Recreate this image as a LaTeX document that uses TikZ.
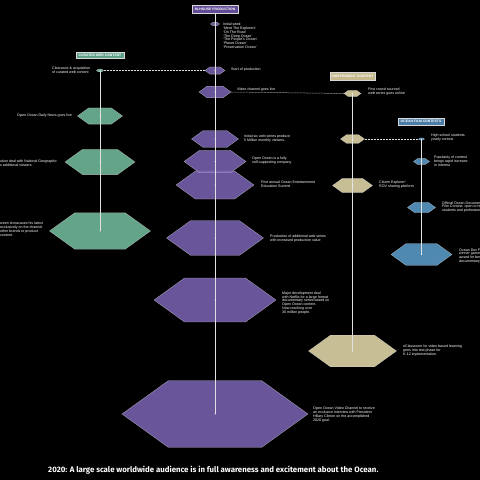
\documentclass[tikz,border=0pt]{standalone}
\usepackage{fontspec}
\setmainfont{Liberation Sans}
\newfontfamily\capfont{Fira Sans}
\usetikzlibrary{calc}
\definecolor{purp}{RGB}{124,100,182}
\definecolor{grn}{RGB}{118,194,162}
\definecolor{tan}{RGB}{236,224,176}
\definecolor{blu}{RGB}{94,160,208}
\definecolor{purpbox}{RGB}{98,76,150}
\definecolor{grnbox}{RGB}{96,160,134}
\definecolor{tanbox}{RGB}{196,184,140}
\definecolor{blubox}{RGB}{74,126,168}
\definecolor{linec}{RGB}{225,225,225}
\tikzset{
  hexbox/.style={inner sep=0pt, outer sep=0pt, draw=none},
  hexshape/.style={fill opacity=0.85, draw=white!85!black, draw opacity=0.7, line width=0.3pt},
  dotc/.style={fill=white},
  txt/.style={font=\fontsize{3.6}{3.9}\selectfont, text=white, align=left, inner sep=0pt, anchor=west},
  titlebox/.style={font=\fontsize{3.4}{3.6}\selectfont\bfseries, text=white, inner sep=0pt, draw=white!85!black, line width=0.4pt},
  vline/.style={draw=linec, line width=0.6pt},
  dline/.style={draw=linec, line width=0.5pt, dash pattern=on 0.6pt off 0.9pt},
}
\newcommand\hexnode[5]{%
  \node[hexbox, minimum width=#4pt, minimum height={0.36*#4pt}] (#1) at (#2,#3) {};
  \path[hexshape, fill=#5] (#1.west) -- ([xshift={0.25*#4pt}]#1.north west) -- ([xshift={-0.25*#4pt}]#1.north east) -- (#1.east) -- ([xshift={-0.25*#4pt}]#1.south east) -- ([xshift={0.25*#4pt}]#1.south west) -- cycle;
}
\begin{document}
\begin{tikzpicture}[x=1pt, y=-1pt]
\useasboundingbox (0,0) rectangle (480,480);
\fill[black] (0,0) rectangle (480,480);

% title boxes
\node[titlebox, fill=purpbox, minimum width=46pt, minimum height=8.5pt] (inhouse) at (215,9) {IN-HOUSE PRODUCTION};
\node[titlebox, fill=grnbox, minimum width=48pt, minimum height=6pt] (curated) at (100,55) {CURATED WEB CONTENT};
\node[titlebox, fill=tanbox, minimum width=45pt, minimum height=7.5pt] (indep) at (352.5,76) {INDEPENDENT CONTENT};
\node[titlebox, fill=blubox, minimum width=46pt, minimum height=7pt] (film) at (421,121.5) {OCEAN FILM CONTESTS};

% central column
\hexnode{p1}{215}{24}{9}{purp}
\hexnode{p2}{215}{70.5}{20}{purp}
\hexnode{p3}{215}{92}{32}{purp}
\hexnode{p4}{215}{139}{47}{purp}
\hexnode{p6}{215}{185}{78}{purp}
\hexnode{p5}{215}{161.5}{62}{purp}
\hexnode{p7}{215}{238}{97}{purp}
\hexnode{p8}{215}{300}{122}{purp}
\hexnode{p9}{215}{414}{186}{purp}

% curated column
\hexnode{c1}{100}{70.5}{7}{grn}
\hexnode{c2}{100}{116}{45}{grn}
\hexnode{c3}{100}{162}{70}{grn}
\hexnode{c4}{100}{231}{101}{grn}

% independent column
\hexnode{i1}{352.5}{93.5}{17}{tan}
\hexnode{i2}{352.5}{139}{24}{tan}
\hexnode{i3}{352.5}{185.5}{40}{tan}
\hexnode{i4}{352.5}{351}{88}{tan}

% film column
\hexnode{f1}{421.5}{139}{6}{blu}
\hexnode{f2}{421.5}{161.5}{16}{blu}
\hexnode{f3}{421.5}{207.5}{28}{blu}
\hexnode{f4}{421.5}{254.5}{61}{blu}

% connectors
\draw[vline] (inhouse.south) -- (p9.center);
\draw[vline] (c1.center) -- (c4.center);
\draw[vline] (i1.center) -- (i4.center);
\draw[vline] (f1.center) -- (f4.center);
\draw[dline] (c1.east) -- (p2.west);
\draw[dline] (p3.east) -- (i1.west);
\draw[dline] (i2.east) -- (f1.west);
\foreach \n in {p1,p2,p3,p4,p5,p6,p7,p8,p9,c1,c2,c3,c4,i1,i2,i3,i4,f1,f2,f3,f4}
  \fill[dotc] (\n.center) circle (0.5pt);

% labels central
\node[txt] (tp1) at (223,35.8) {Initial seed:\\`Meet The Explorers'\\`On The Road'\\`The Deep Ocean'\\`The People's Ocean'\\`Planet Ocean'\\`Preservation Ocean'};
\node[txt] (tp2) at (231,70) {Start of production};
\node[txt] (tp3) at (237,89.5) {Video channel goes live};
\node[txt] (tp4) at (244,139) {Initial six web series produce\\5 Million monthly viewers.};
\node[txt] (tp5) at (252,161) {Open Ocean is a fully\\self-supporting company};
\node[txt] (tp6) at (261,184) {First annual Ocean Entertainment\\Education Summit};
\node[txt] (tp7) at (270,239) {Production of additional web series\\with increased production value};
\node[txt] (tp8) at (282,303) {Major development deal\\with Netflix for a large format\\documentary series based on\\Open Ocean content.\\Now reaching over\\30 million people.};
\node[txt] (tp9) at (313,414.5) {Open Ocean Video Channel to receive\\an exclusive interview with President\\Hillary Clinton on the accomplished\\2020 goal.};

% labels curated
\node[txt] (tc1) at (52,70) {Clearance \& acquisition\\of curated web content};
\node[txt] (tc2) at (17,116) {Open Ocean Daily News goes live};
\node[txt] (tc3) at (0,162.8) {ution deal with National Geographic\\s additional viewers.};
\node[txt] (tc4) at (0,229.5) {ween showcases his latest\\exclusively on the channel.\\other brands to produce\\content.};

% labels independent
\node[txt] (ti1) at (368,92) {First crowd sourced\\web series goes online};
\node[txt] (ti3) at (379,185) {Citizen Explorer!\\ROV sharing platform};
\node[txt] (ti4) at (403,350.3) {eClassroom for video based learning\\goes into test phase for\\K-12 implementation.};

% labels film
\node[txt] (tf1) at (431,137.7) {High school students\\yearly contest};
\node[txt] (tf2) at (434,161) {Popularity of contest\\brings rapid increase\\in interest};
\node[txt] (tf3) at (442,207) {Official Ocean Documentary\\Film Contest: open to high school\\students and professionals};
\node[txt] (tf4) at (459,256) {Ocean Doc Film Contest\\winner garners\\award for best\\documentary};

% caption
\node[font=\capfont\bfseries\fontsize{7.85}{8.5}\selectfont, text=white, inner sep=0pt, anchor=west] (cap) at (48,470) {2020: A large scale worldwide audience is in full awareness and excitement about the Ocean.};
\end{tikzpicture}
\end{document}
